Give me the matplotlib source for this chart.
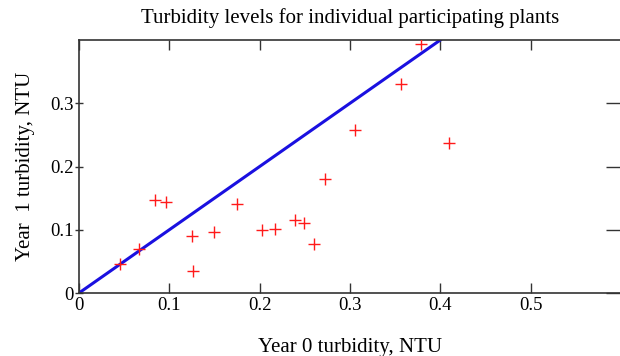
import matplotlib
matplotlib.use("Agg")
import matplotlib.pyplot as plt

plt.rcParams["font.family"] = ["Liberation Serif", "DejaVu Serif"]

# turbidity per plant, NTU
year0 = [0.045, 0.066, 0.084, 0.096, 0.125, 0.126, 0.149, 0.175, 0.203,
         0.217, 0.239, 0.249, 0.260, 0.272, 0.306, 0.357, 0.379, 0.410]
year1 = [0.046, 0.070, 0.147, 0.144, 0.090, 0.034, 0.097, 0.141, 0.099,
         0.101, 0.115, 0.111, 0.077, 0.181, 0.258, 0.330, 0.393, 0.237]

# y = x reference
ref_line = [0.0, 0.4]

x_ticks = [0, 0.1, 0.2, 0.3, 0.4, 0.5]
x_labels = ["0", "0.1", "0.2", "0.3", "0.4", "0.5"]
y_ticks = [0, 0.1, 0.2, 0.3]
y_labels = ["0", "0.1", "0.2", "0.3"]

W, H = 620, 356
fig = plt.figure(figsize=(W / 100, H / 100), dpi=100)
ax = fig.add_axes([79 / W, 1 - 293 / H, (621 - 79) / W, (293 - 40) / H])

ax.plot(ref_line, ref_line, color="#1a10e0", lw=2.2, zorder=2)
ax.plot(year0, year1, linestyle="none", marker="+", color="#ff1a1a",
        markersize=8, markeredgewidth=1.0, zorder=3)

ax.set_xlim(0, 0.6)
ax.set_ylim(0, 0.4)
ax.set_xticks(x_ticks)
ax.set_xticklabels(x_labels)
ax.set_yticks(y_ticks)
ax.set_yticklabels(y_labels)

for s in ax.spines.values():
    s.set_color("#333333")
    s.set_linewidth(1.2)

ax.tick_params(axis="x", direction="in", top=True, bottom=True, length=7,
               width=1.0, color="#333333", labelsize=13.5, pad=3)
ax.tick_params(axis="y", direction="inout", left=True, right=True,
               labelleft=True, length=6, width=1.0, color="#333333",
               labelsize=13.5, pad=1)
# longer ticks along the right edge
for t in ax.yaxis.get_major_ticks():
    t.tick2line.set_markersize(22)

ax.set_title("Turbidity levels for individual participating plants",
             fontsize=15, pad=12)
ax.set_xlabel("Year 0 turbidity, NTU", fontsize=15, labelpad=17)
ax.set_ylabel("Year  1 turbidity, NTU", fontsize=15, labelpad=11)

fig.savefig("out.png", dpi=100)
